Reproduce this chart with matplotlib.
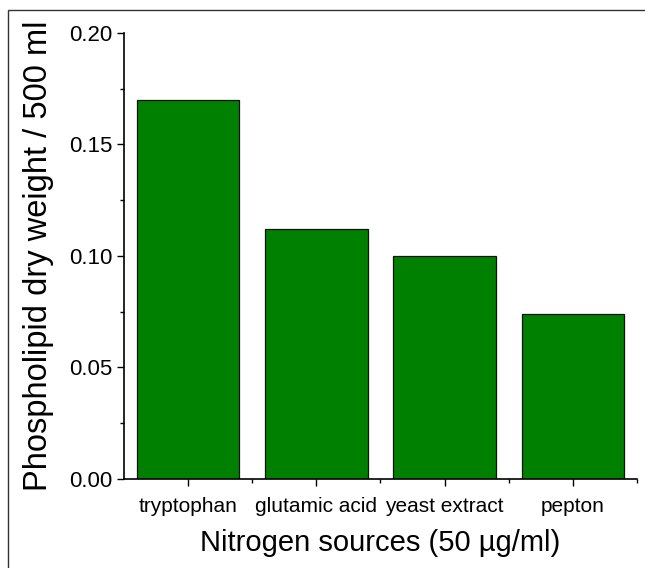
import matplotlib
matplotlib.use("Agg")
import matplotlib.pyplot as plt
from matplotlib import font_manager
from matplotlib.patches import Rectangle
from matplotlib.ticker import MultipleLocator, FixedLocator

# Phospholipid yield for each nitrogen source
sources = ["tryptophan", "glutamic acid", "yeast extract", "pepton"]
dry_weight = [0.170, 0.112, 0.100, 0.074]
y_ticks = [0.00, 0.05, 0.10, 0.15, 0.20]
y_tick_labels = ["0.00", "0.05", "0.10", "0.15", "0.20"]

installed = {f.name for f in font_manager.fontManager.ttflist}
regular = ["Liberation Sans", "DejaVu Sans"]
if "Liberation Sans Narrow" in installed:
    narrow, narrow_size = ["Liberation Sans Narrow", "DejaVu Sans"], 25
else:
    narrow, narrow_size = regular, 21

plt.rcParams["font.family"] = regular

fig = plt.figure(figsize=(6.45, 5.68), dpi=100)
ax = fig.add_axes([0.1922, 0.1567, 0.7954, 0.7852])

x = list(range(len(sources)))
ax.bar(x, dry_weight, width=0.8, color="#008000", edgecolor="#111111",
       linewidth=0.9, zorder=2)

ax.set_xlim(-0.5, 3.5)
ax.set_ylim(0, 0.2)

ax.set_xticks(x)
ax.set_xticklabels(sources, fontsize=15)
ax.xaxis.set_minor_locator(FixedLocator([0.5, 1.5, 2.5, 3.5]))
ax.set_yticks(y_ticks)
ax.set_yticklabels(y_tick_labels, fontsize=16)
ax.yaxis.set_minor_locator(MultipleLocator(0.025))

for side in ("top", "right"):
    ax.spines[side].set_visible(False)
for side in ("left", "bottom"):
    ax.spines[side].set_linewidth(1.2)

ax.tick_params(axis="both", which="major", direction="out", length=5,
               width=1.0, color="black")
ax.tick_params(axis="both", which="minor", direction="out", length=3,
               width=1.0, color="black")
ax.tick_params(axis="y", which="major", pad=3)
ax.tick_params(axis="x", which="major", pad=8)

ax.set_xlabel("Nitrogen sources (50 µg/ml)", fontsize=narrow_size,
              family=narrow, labelpad=9)
ax.set_ylabel("Phospholipid dry weight / 500 ml", fontsize=23.5, labelpad=11)

# outer frame around the figure
fig.patches.append(Rectangle((8 / 645, -0.05), 1.2, 1 - 10 / 568 + 0.05,
                             transform=fig.transFigure, fill=False,
                             edgecolor="#333333", linewidth=1.0,
                             clip_on=False))

fig.savefig("out.png", dpi=100)
